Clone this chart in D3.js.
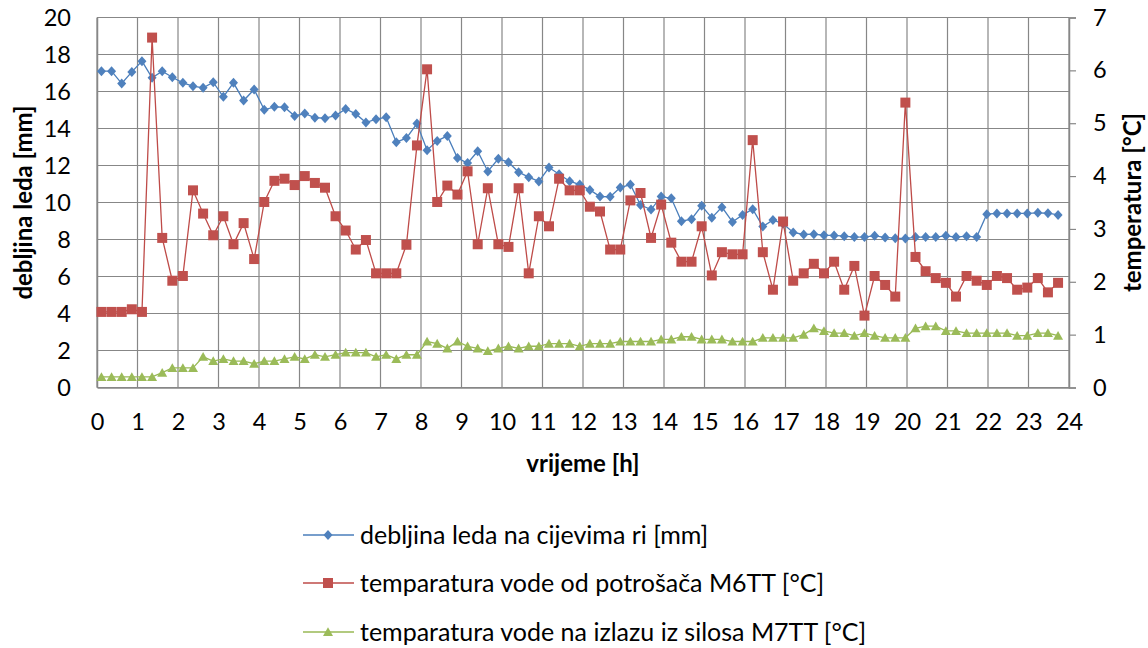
<!DOCTYPE html>
<html>
<head>
<meta charset="utf-8">
<script src="https://cdn.jsdelivr.net/npm/d3@7"></script>
<style>
  html, body { margin: 0; padding: 0; background: #fff; }
  svg { display: block; font-family: Lato, "Open Sans", sans-serif; }
</style>
</head>
<body>
<svg id="chart" width="1148" height="648"></svg>
<script>
// ---- data ----
const hours = [0.11,0.36,0.61,0.86,1.11,1.36,1.61,1.86,2.12,2.37,2.62,2.87,3.12,3.37,3.62,3.88,4.13,4.38,4.63,4.88,
  5.13,5.38,5.63,5.89,6.14,6.39,6.64,6.89,7.14,7.39,7.64,7.90,8.15,8.40,8.65,8.90,9.15,9.40,9.65,9.91,
  10.16,10.41,10.66,10.91,11.16,11.41,11.67,11.92,12.17,12.42,12.67,12.92,13.17,13.42,13.68,13.93,14.18,14.43,14.68,14.93,
  15.18,15.43,15.69,15.94,16.19,16.44,16.69,16.94,17.19,17.45,17.70,17.95,18.20,18.45,18.70,18.95,19.20,19.46,19.71,19.96,
  20.21,20.46,20.71,20.96,21.21,21.47,21.72,21.97,22.22,22.47,22.72,22.97,23.23,23.48,23.73];

const iceThickness = [17.10,17.10,16.43,17.06,17.64,16.74,17.10,16.77,16.47,16.29,16.20,16.50,15.71,16.47,15.51,16.11,
  15.01,15.17,15.15,14.68,14.81,14.58,14.56,14.70,15.06,14.79,14.32,14.50,14.61,13.26,13.48,14.27,
  12.83,13.33,13.60,12.40,12.13,12.77,11.68,12.36,12.18,11.64,11.37,11.14,11.89,11.53,11.15,10.97,10.68,10.32,10.31,
  10.81,10.97,9.86,9.62,10.32,10.23,8.99,9.10,9.82,9.17,9.75,8.95,
  9.33,9.64,8.70,9.06,8.85,8.38,8.27,8.29,8.23,8.22,8.18,8.13,8.14,8.20,8.11,8.07,8.05,8.13,8.13,8.13,8.20,8.13,8.18,8.13,
  9.37,9.41,9.41,9.41,9.41,9.44,9.42,9.33];

const tempM6TT = [1.43,1.43,1.43,1.48,1.43,6.62,2.83,2.02,2.11,3.73,3.29,2.88,3.24,2.71,3.11,2.43,3.51,3.91,3.95,3.83,
  4.00,3.87,3.78,3.24,2.97,2.61,2.79,2.16,2.16,2.16,2.70,4.58,
  6.02,3.51,3.82,3.65,4.09,2.71,3.77,2.71,2.66,3.77,2.16,3.24,3.05,3.95,3.73,3.73,3.42,3.33,2.61,2.61,3.54,3.68,2.83,
  3.46,2.74,2.38,2.38,3.05,2.12,2.56,2.52,
  2.52,4.68,2.56,1.85,3.14,2.02,2.16,2.34,2.16,2.38,1.85,2.30,1.36,2.11,1.94,1.72,5.39,2.47,2.20,2.07,1.98,1.72,2.11,
  2.02,1.94,2.11,2.07,1.85,1.89,2.07,1.80,1.98];

const tempM7TT = [0.20,0.20,0.20,0.20,0.20,0.20,0.28,0.37,0.37,0.37,0.58,0.50,0.54,0.50,0.50,0.45,0.50,0.50,0.54,0.58,
  0.54,0.62,0.58,0.62,0.66,0.66,0.66,0.58,0.62,0.54,0.62,0.62,
  0.87,0.83,0.74,0.87,0.78,0.74,0.69,0.74,0.78,0.74,0.78,0.78,0.83,0.83,0.83,0.78,0.83,0.83,0.83,0.87,0.87,0.87,0.87,
  0.91,0.91,0.96,0.96,0.91,0.91,0.91,0.87,
  0.87,0.87,0.94,0.94,0.94,0.94,1.00,1.12,1.07,1.03,1.03,0.98,1.03,0.98,0.94,0.94,0.94,1.12,1.16,1.16,1.07,1.07,1.03,
  1.03,1.03,1.03,1.03,0.98,0.98,1.03,1.03,0.98];

const xTicks = d3.range(0, 25, 1);
const leftTicks = [0,2,4,6,8,10,12,14,16,18,20];
const rightTicks = [0,1,2,3,4,5,6,7];
const seriesNames = ["debljina leda na cijevima ri [mm]",
                     "temparatura vode od potrošača M6TT [°C]",
                     "temparatura vode na izlazu iz silosa M7TT [°C]"];
const xTitle = "vrijeme [h]";
const leftTitle = "debljina leda [mm]";
const rightTitle = "temperatura [°C]";

// ---- layout ----
const L = 97, R = 1069, T = 17.5, B = 387.5;
const svg = d3.select("#chart");
const x = d3.scaleLinear().domain([0, 24]).range([L, R]);
const yL = d3.scaleLinear().domain([0, 20]).range([B, T]);
const yR = d3.scaleLinear().domain([0, 7]).range([B, T]);
const gridCol = "#878787";
const tickFs = 23.5, titleFs = 24, legendFs = 25;

// gridlines
const g = svg.append("g");
g.selectAll("line.v").data(xTicks).join("line")
  .attr("x1", d => x(d)).attr("x2", d => x(d)).attr("y1", T).attr("y2", B)
  .attr("stroke", gridCol).attr("stroke-width", 1.2);
g.selectAll("line.h").data(leftTicks).join("line")
  .attr("x1", L).attr("x2", R).attr("y1", d => yL(d)).attr("y2", d => yL(d))
  .attr("stroke", gridCol).attr("stroke-width", 1.2);

// axes
const axB = svg.append("g").attr("transform", `translate(0,${B})`)
  .call(d3.axisBottom(x).tickValues(xTicks).tickSize(0).tickPadding(26).tickFormat(d3.format("d")));
const axL = svg.append("g").attr("transform", `translate(${L},0)`)
  .call(d3.axisLeft(yL).tickValues(leftTicks).tickSize(0).tickPadding(26).tickFormat(d3.format("d")));
const axR = svg.append("g").attr("transform", `translate(${R},0)`)
  .call(d3.axisRight(yR).tickValues(rightTicks).tickSize(7).tickPadding(17).tickFormat(d3.format("d")));
[axB, axL, axR].forEach(a => {
  a.select(".domain").attr("stroke", gridCol).attr("stroke-width", 1.5);
  a.selectAll(".tick line").attr("stroke", gridCol).attr("stroke-width", 1.2);
  a.selectAll("text").attr("font-family", "Lato, sans-serif").attr("font-size", tickFs).attr("fill", "#000");
});

// titles
svg.append("text").attr("x", (L + R) / 2).attr("y", 472).attr("text-anchor", "middle")
  .attr("font-size", titleFs).attr("font-weight", "bold").text(xTitle);
svg.append("text").attr("transform", `translate(32,${(T + B) / 2}) rotate(-90)`).attr("text-anchor", "middle")
  .attr("font-size", titleFs).attr("font-weight", "bold").text(leftTitle);
svg.append("text").attr("transform", `translate(1141,${(T + B) / 2}) rotate(-90)`).attr("text-anchor", "middle")
  .attr("font-size", titleFs).attr("font-weight", "bold").text(rightTitle);

// marker shapes
function marker(type) {
  if (type === "diamond") return "M0,-5L4.5,0L0,5L-4.5,0Z";
  if (type === "square") return "M-5,-5H5V5H-5Z";
  return "M0,-4.8L5,4L-5,4Z";
}

const series = [
  { name: seriesNames[0], values: iceThickness, y: yL, color: "#4A7EBB", mcolor: "#4F81BD", shape: "diamond" },
  { name: seriesNames[1], values: tempM6TT, y: yR, color: "#BE4B48", mcolor: "#C0504D", shape: "square" },
  { name: seriesNames[2], values: tempM7TT, y: yR, color: "#98B954", mcolor: "#9BBB59", shape: "triangle" }
];

series.forEach(s => {
  const pts = s.values.map((v, i) => [hours[i], v]);
  svg.append("path").datum(pts)
    .attr("fill", "none").attr("stroke", s.color).attr("stroke-width", 1.3)
    .attr("d", d3.line().x(d => x(d[0])).y(d => s.y(d[1])));
  svg.append("g").selectAll("path").data(pts).join("path")
    .attr("transform", d => `translate(${x(d[0])},${s.y(d[1])})`)
    .attr("d", marker(s.shape)).attr("fill", s.mcolor);
});

// legend
const legY = [535, 583, 632];
series.forEach((s, i) => {
  const lg = svg.append("g").attr("transform", `translate(0,${legY[i]})`);
  lg.append("line").attr("x1", 303).attr("x2", 354).attr("y1", 0).attr("y2", 0)
    .attr("stroke", s.color).attr("stroke-width", 1.3);
  lg.append("path").attr("transform", "translate(328,0)").attr("d", marker(s.shape)).attr("fill", s.mcolor);
  lg.append("text").attr("x", 360).attr("y", 0).attr("dy", "0.35em")
    .attr("font-size", legendFs).attr("fill", "#000").text(s.name);
});
</script>
</body>
</html>
